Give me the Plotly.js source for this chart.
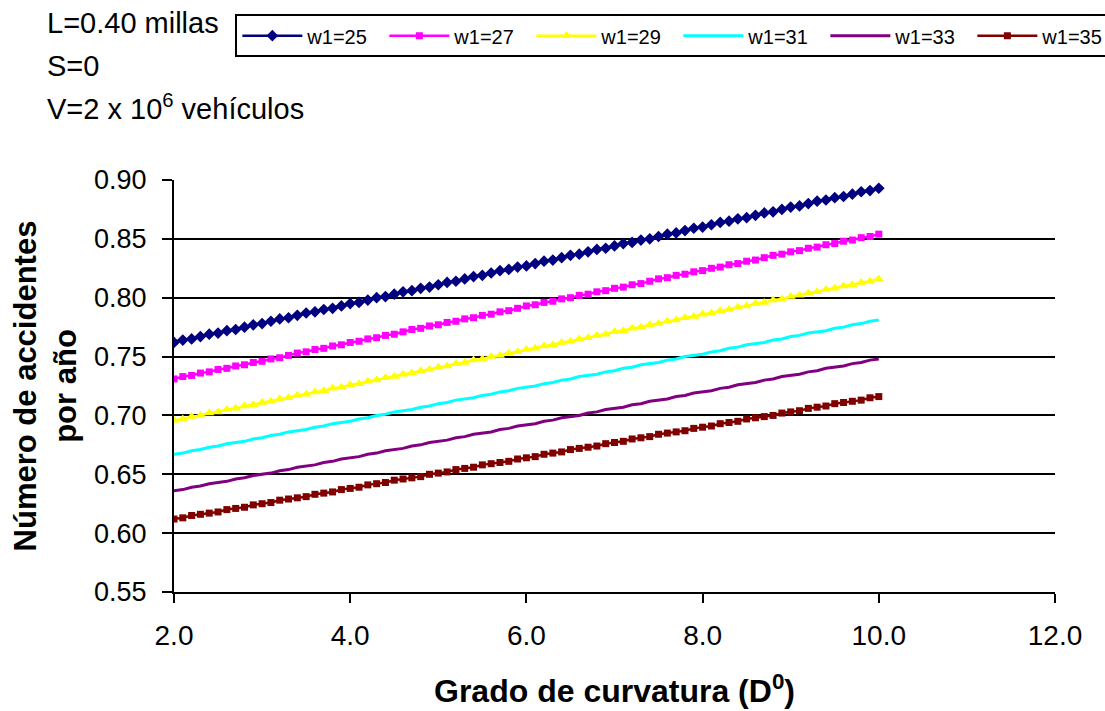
<!DOCTYPE html>
<html>
<head>
<meta charset="utf-8">
<script src="https://cdn.plot.ly/plotly-3.0.1.min.js"></script>
<style>html,body{margin:0;padding:0;background:#fff;}#chart{width:1105px;height:711px;}</style>
</head>
<body>
<div id="chart"></div>
<script>
// Grado de curvatura (D)
var curvature = [2.0,2.1,2.2,2.3,2.4,2.5,2.6,2.7,2.8,2.9,3.0,3.1,3.2,3.3,3.4,3.5,3.6,3.7,3.8,3.9,
  4.0,4.1,4.2,4.3,4.4,4.5,4.6,4.7,4.8,4.9,5.0,5.1,5.2,5.3,5.4,5.5,5.6,5.7,5.8,5.9,
  6.0,6.1,6.2,6.3,6.4,6.5,6.6,6.7,6.8,6.9,7.0,7.1,7.2,7.3,7.4,7.5,7.6,7.7,7.8,7.9,
  8.0,8.1,8.2,8.3,8.4,8.5,8.6,8.7,8.8,8.9,9.0,9.1,9.2,9.3,9.4,9.5,9.6,9.7,9.8,9.9,10.0];

var w1_25 = [0.762,0.764,0.765,0.767,0.769,0.770,0.772,0.773,0.775,0.777,
  0.778,0.780,0.782,0.783,0.785,0.787,0.788,0.790,0.791,0.793,
  0.795,0.796,0.798,0.800,0.801,0.803,0.805,0.806,0.808,0.809,
  0.811,0.813,0.814,0.816,0.818,0.819,0.821,0.823,0.824,0.826,
  0.827,0.829,0.831,0.832,0.834,0.836,0.837,0.839,0.841,0.842,
  0.844,0.846,0.847,0.849,0.850,0.852,0.854,0.855,0.857,0.859,
  0.860,0.862,0.864,0.865,0.867,0.868,0.870,0.872,0.873,0.875,
  0.877,0.878,0.880,0.882,0.883,0.885,0.886,0.888,0.890,0.891,0.893];

var w1_27 = [0.731,0.733,0.734,0.736,0.737,0.739,0.740,0.742,0.743,0.745,
  0.746,0.748,0.749,0.751,0.753,0.754,0.756,0.757,0.759,0.760,
  0.762,0.763,0.765,0.766,0.768,0.769,0.771,0.773,0.774,0.776,
  0.777,0.779,0.780,0.782,0.783,0.785,0.786,0.788,0.789,0.791,
  0.793,0.794,0.796,0.797,0.799,0.800,0.802,0.803,0.805,0.806,
  0.808,0.809,0.811,0.812,0.814,0.816,0.817,0.819,0.820,0.822,
  0.823,0.825,0.826,0.828,0.829,0.831,0.832,0.834,0.836,0.837,
  0.839,0.840,0.842,0.843,0.845,0.846,0.848,0.849,0.851,0.852,0.854];

var w1_29 = [0.696,0.697,0.699,0.700,0.702,0.703,0.705,0.706,0.708,0.709,
  0.711,0.712,0.714,0.715,0.717,0.718,0.720,0.721,0.723,0.724,
  0.726,0.727,0.729,0.730,0.732,0.733,0.735,0.736,0.738,0.739,
  0.741,0.742,0.744,0.745,0.747,0.748,0.750,0.751,0.753,0.754,
  0.756,0.757,0.759,0.760,0.762,0.763,0.765,0.766,0.768,0.769,
  0.771,0.772,0.774,0.775,0.777,0.778,0.780,0.781,0.783,0.784,
  0.786,0.787,0.789,0.790,0.792,0.793,0.795,0.796,0.798,0.799,
  0.801,0.802,0.804,0.805,0.807,0.808,0.810,0.811,0.813,0.814,0.816];

var w1_31 = [0.667,0.668,0.670,0.671,0.673,0.674,0.676,0.677,0.678,0.680,
  0.681,0.683,0.684,0.686,0.687,0.688,0.690,0.691,0.693,0.694,
  0.695,0.697,0.698,0.700,0.701,0.703,0.704,0.705,0.707,0.708,
  0.710,0.711,0.713,0.714,0.715,0.717,0.718,0.720,0.721,0.723,
  0.724,0.725,0.727,0.728,0.730,0.731,0.733,0.734,0.735,0.737,
  0.738,0.740,0.741,0.743,0.744,0.745,0.747,0.748,0.750,0.751,
  0.752,0.754,0.755,0.757,0.758,0.760,0.761,0.762,0.764,0.765,
  0.767,0.768,0.770,0.771,0.772,0.774,0.775,0.777,0.778,0.780,0.781];

var w1_33 = [0.636,0.637,0.639,0.640,0.642,0.643,0.644,0.646,0.647,0.649,
  0.650,0.651,0.653,0.654,0.656,0.657,0.658,0.660,0.661,0.663,
  0.664,0.665,0.667,0.668,0.670,0.671,0.672,0.674,0.675,0.677,
  0.678,0.679,0.681,0.682,0.684,0.685,0.686,0.688,0.689,0.691,
  0.692,0.693,0.695,0.696,0.698,0.699,0.700,0.702,0.703,0.705,
  0.706,0.707,0.709,0.710,0.712,0.713,0.714,0.716,0.717,0.719,
  0.720,0.721,0.723,0.724,0.726,0.727,0.728,0.730,0.731,0.733,
  0.734,0.735,0.737,0.738,0.740,0.741,0.742,0.744,0.745,0.747,0.748];

var w1_35 = [0.612,0.613,0.615,0.616,0.617,0.618,0.620,0.621,0.622,0.624,
  0.625,0.626,0.628,0.629,0.630,0.631,0.633,0.634,0.635,0.637,
  0.638,0.639,0.641,0.642,0.643,0.645,0.646,0.647,0.648,0.650,
  0.651,0.652,0.654,0.655,0.656,0.658,0.659,0.660,0.661,0.663,
  0.664,0.665,0.667,0.668,0.669,0.671,0.672,0.673,0.674,0.676,
  0.677,0.678,0.680,0.681,0.682,0.684,0.685,0.686,0.687,0.689,
  0.690,0.691,0.693,0.694,0.695,0.697,0.698,0.699,0.700,0.702,
  0.703,0.704,0.706,0.707,0.708,0.710,0.711,0.712,0.713,0.715,0.716];

var seriesNames = ["w1=25","w1=27","w1=29","w1=31","w1=33","w1=35"];
var seriesValues = [w1_25, w1_27, w1_29, w1_31, w1_33, w1_35];

var xTickVals = [2, 4, 6, 8, 10, 12];
var xTickText = ["2.0","4.0","6.0","8.0","10.0","12.0"];
var yTickVals = [0.55,0.60,0.65,0.70,0.75,0.80,0.85,0.90];
var yTickText = ["0.55","0.60","0.65","0.70","0.75","0.80","0.85","0.90"];

var notes = ["L=0.40 millas", "S=0", "V=2 x 10<sup>6</sup> vehículos"];

var styles = [
  {color:"#000080", mode:"lines+markers", symbol:"diamond", size:9, width:2.5},
  {color:"#FF00FF", mode:"lines+markers", symbol:"square", size:7, width:2.5},
  {color:"#FFFF00", mode:"lines+markers", symbol:"triangle-up", size:9, width:2.5},
  {color:"#00FFFF", mode:"lines", symbol:"circle", size:6, width:3},
  {color:"#800080", mode:"lines", symbol:"circle", size:6, width:3},
  {color:"#800000", mode:"lines+markers", symbol:"square", size:7, width:2.5}
];

var FONT = "Arial, 'Liberation Sans', sans-serif";

var data = seriesNames.map(function(name, i){
  var s = styles[i];
  return {
    type: "scatter",
    x: curvature,
    y: seriesValues[i],
    name: name,
    mode: s.mode,
    line: {color: s.color, width: s.width},
    marker: {symbol: s.symbol, size: s.size, color: s.color, line: {width: 0}}
  };
});

var noteY = [1.382, 1.277, 1.177];
var annotations = notes.map(function(t, i){
  return {
    text: t, xref: "paper", yref: "paper", x: -0.146, y: noteY[i],
    xanchor: "left", yanchor: "middle", showarrow: false,
    font: {family: FONT, size: 29, color: "#000"}
  };
});

var layout = {
  width: 1105, height: 711,
  margin: {l: 174, r: 50, t: 180, b: 119, pad: 0},
  paper_bgcolor: "#fff", plot_bgcolor: "#fff",
  font: {family: FONT, color: "#000"},
  showlegend: true,
  legend: {
    orientation: "h", xref: "container", x: 0.213, xanchor: "left",
    yref: "container", y: 0.98, yanchor: "top",
    bordercolor: "#000", borderwidth: 2, bgcolor: "#fff",
    font: {family: FONT, size: 20, color: "#000"},
    itemwidth: 60, entrywidth: 72, entrywidthmode: "pixels",
    traceorder: "normal"
  },
  xaxis: {
    range: [2, 12], tickmode: "array", tickvals: xTickVals, ticktext: xTickText,
    showgrid: false, zeroline: false,
    showline: true, linecolor: "#000", linewidth: 2,
    ticks: "outside", ticklen: 9, tickwidth: 2, tickcolor: "#000",
    ticklabelstandoff: 8,
    tickfont: {family: FONT, size: 28, color: "#000"},
    automargin: false,
    title: {text: "Grado de curvatura (D<sup>0</sup>)", standoff: 30,
      font: {family: FONT, size: 32, color: "#000", weight: "bold"}}
  },
  yaxis: {
    range: [0.55, 0.90], tickmode: "array", tickvals: yTickVals, ticktext: yTickText,
    showgrid: true, gridcolor: "#000", gridwidth: 2, zeroline: false,
    showline: true, linecolor: "#000", linewidth: 2,
    ticks: "outside", ticklen: 10, tickwidth: 2, tickcolor: "#000",
    ticklabelstandoff: 10,
    tickfont: {family: FONT, size: 27, color: "#000"},
    automargin: false,
    title: {text: "Número de accidentes<br>por año", standoff: 8,
      font: {family: FONT, size: 31, color: "#000", weight: "bold"}}
  },
  annotations: annotations
};

Plotly.newPlot("chart", data, layout, {displayModeBar: false, staticPlot: true});
</script>
</body>
</html>
